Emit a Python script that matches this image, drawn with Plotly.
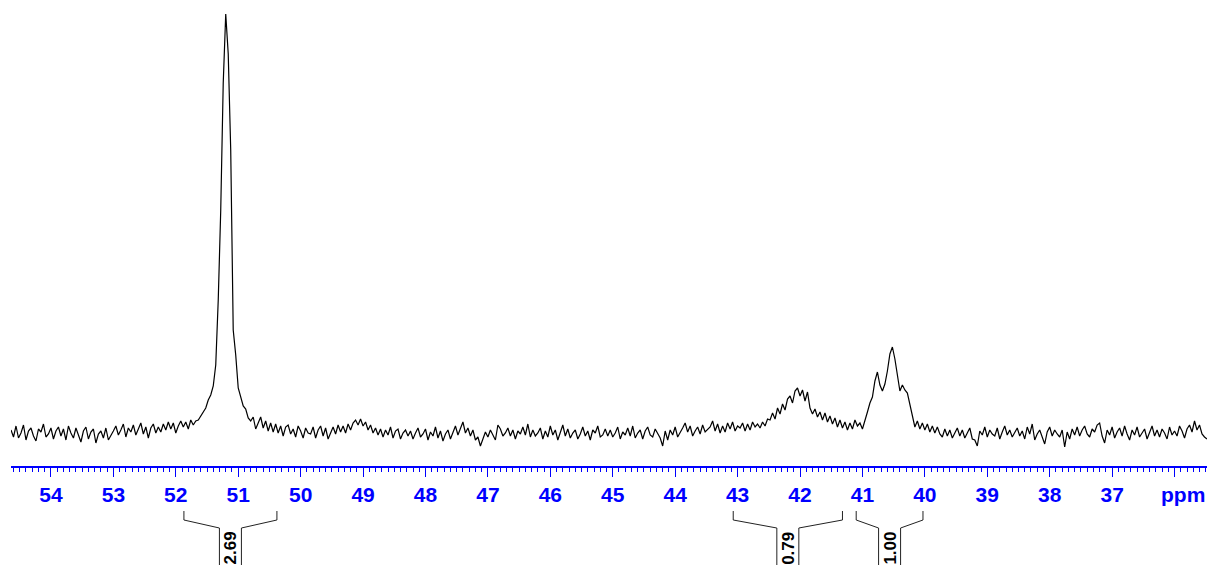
import numpy as np
import plotly.graph_objects as go

# 13C spectrum, intensities sampled every 0.04 ppm starting at 54.64 ppm
PPM_START = 54.64
PPM_STEP = 0.04
intensity = [
    4, -3, 8, -4, 1, 9, -6, 3, 6, -2, -7, 5, 2, 10, -3, 0, 6, -5, 3, 7,
    -2, 5, -6, 8, 1, -4, 6, -1, -8, 3, 7, -5, 2, 5, -9, 0, 3, -4, 6, -6,
    -2, 3, 8, -1, 4, 10, -3, 6, 2, 9, -1, 5, 11, 0, 7, -4, 6, 10, 1, 7,
    2, 10, 4, 12, 5, 11, 1, 8, 13, 7, 12, 5, 14, 9, 13, 14, 18, 22, 26, 34,
    39, 48, 69, 134, 224, 351, 420, 380, 284, 104, 79, 46, 36, 28, 25, 16, 13, 17, 5, 11,
    17, 6, 13, 3, 11, 2, 10, 1, 8, -2, 7, 9, 0, 5, -3, 8, 3, -4, 6, 1,
    0, 7, -4, 4, 8, -2, 6, -5, 2, 7, 0, 9, 2, 8, 1, 10, 4, 11, 14, 9,
    15, 8, 12, 4, 9, 1, 6, -1, 5, -3, 4, -1, 7, -4, 3, 5, -5, 1, 4, -2,
    3, -5, 1, 6, -3, 0, 5, -6, 2, -2, 7, -4, 3, -7, 0, 4, -5, 1, 8, -1,
    5, 12, 1, 6, -2, 4, -6, -3, -12, -4, 2, -3, 4, -1, -6, 9, 5, -2, 1, 6,
    -2, 4, -5, 3, 0, 7, -1, 10, -3, 4, -2, 1, 6, -5, 3, -3, 8, -1, 4, -6,
    2, 9, -2, 5, -4, 1, 4, -5, 0, 7, -2, 3, -6, 4, 1, 8, -3, -1, 5, -2,
    4, -3, 1, 7, -5, 2, -1, 6, -2, 8, -4, 1, 4, -5, 3, 7, -1, -3, 5, 1,
    -4, -12, 3, -6, 4, -1, 7, -3, 1, 6, 11, 2, 8, -2, 3, 7, 0, 9, 2, 5,
    7, 13, 3, 10, 1, 8, 2, 11, 5, 12, 3, 8, 6, 11, 3, 10, 4, 12, 7, 10,
    6, 12, 8, 15, 14, 21, 15, 26, 20, 30, 24, 35, 38, 31, 43, 46, 38, 44, 33, 42,
    26, 20, 25, 17, 22, 14, 21, 12, 18, 10, 16, 7, 14, 6, 12, 4, 11, 5, 14, 8,
    11, 5, 15, 22, 31, 37, 53, 62, 49, 43, 50, 63, 80, 87, 75, 61, 43, 49, 44, 41,
    29, 19, 7, 13, 5, 11, 4, 10, 2, 8, 1, 7, 0, -3, 5, -2, 4, -4, 1, 6,
    -2, 4, -4, 1, 6, -5, -6, -12, 3, -1, 7, -3, 4, 0, -2, 6, -5, 2, 8, -1,
    4, -3, 1, 6, -2, 3, -5, 7, 0, 10, -6, 0, 4, -3, -10, 2, 7, -2, 4, 0,
    -3, 4, -13, 2, -5, 5, -1, 7, -2, 4, 8, 0, -3, 5, 2, 9, 11, -2, -9, 4,
    -1, 7, -4, 2, 6, -2, 8, 0, -6, 4, -1, 7, -3, 1, 5, -5, 2, 8, -2, 4,
    -3, 5, 1, -5, 7, -1, 3, -2, 8, 3, -4, 5, 9, 2, 13, 4, 9, 0, -3, -5,
]
ppm = PPM_START - PPM_STEP * np.arange(len(intensity))

# axis scale
major_ticks = list(range(36, 55))
tick_labels = ["" if v == 36 else str(v) for v in major_ticks]
X_RANGE = [54.64, 35.48]
Y_RANGE = [-32, 434]

# integral regions (ppm) and their values
integral_from = [51.87, 43.07, 41.10]
integral_to = [50.38, 41.32, 40.03]
integral_values = [2.69, 0.79, 1.00]

W, H = 1208, 565
M_L, M_R, M_T, M_B = 11, 1, 0, 99
PLOT_W = W - M_L - M_R
PLOT_H = H - M_T - M_B
BLUE = "#0000FF"


def paper_x(v):
    return (X_RANGE[0] - v) / (X_RANGE[0] - X_RANGE[1])


def below_axis(px):
    return -px / PLOT_H


fig = go.Figure()
fig.add_trace(go.Scatter(
    x=ppm, y=intensity, mode="lines",
    line=dict(color="black", width=1.2),
    hoverinfo="skip",
))

shapes = []
annotations = []
half = 11 / PLOT_W
for a, b, val in zip(integral_from, integral_to, integral_values):
    xl, xr = paper_x(a), paper_x(b)
    xc = (xl + xr) / 2
    y_top, y_knee, y_mid, y_bot = (below_axis(p) for p in (45, 54, 62, 102))
    path = (
        f"M {xl},{y_top} L {xl},{y_knee} L {xc - half},{y_mid} L {xc - half},{y_bot} "
        f"M {xr},{y_top} L {xr},{y_knee} L {xc + half},{y_mid} L {xc + half},{y_bot}"
    )
    shapes.append(dict(type="path", path=path, xref="paper", yref="paper",
                       line=dict(color="#222222", width=1)))
    annotations.append(dict(
        x=xc, y=below_axis(82), xref="paper", yref="paper",
        text=f"{val:.2f}", textangle=-90, showarrow=False,
        xanchor="center", yanchor="middle",
        font=dict(family="Liberation Sans, Arial", size=17, color="black", weight="bold"),
    ))

annotations.append(dict(
    x=1, y=below_axis(28), xref="paper", yref="paper",
    text="ppm", showarrow=False, xanchor="right", yanchor="middle",
    font=dict(family="Liberation Sans, Arial", size=21, color=BLUE, weight="bold"),
))

fig.update_layout(
    width=W, height=H,
    margin=dict(l=M_L, r=M_R, t=M_T, b=M_B),
    paper_bgcolor="white", plot_bgcolor="white",
    showlegend=False,
    shapes=shapes,
    annotations=annotations,
    xaxis=dict(
        range=X_RANGE,
        showgrid=False, zeroline=False,
        showline=True, linecolor=BLUE, linewidth=1.5,
        ticks="outside", ticklen=9, tickwidth=1, tickcolor=BLUE,
        tickmode="array", tickvals=major_ticks, ticktext=tick_labels,
        tickfont=dict(family="Liberation Sans, Arial", size=21, color=BLUE, weight="bold"),
        minor=dict(tickmode="linear", tick0=0, dtick=0.1, ticks="outside",
                   ticklen=4, tickwidth=1, tickcolor=BLUE, showgrid=False),
    ),
    yaxis=dict(range=Y_RANGE, visible=False, fixedrange=True),
)

fig.write_html("out.html")
